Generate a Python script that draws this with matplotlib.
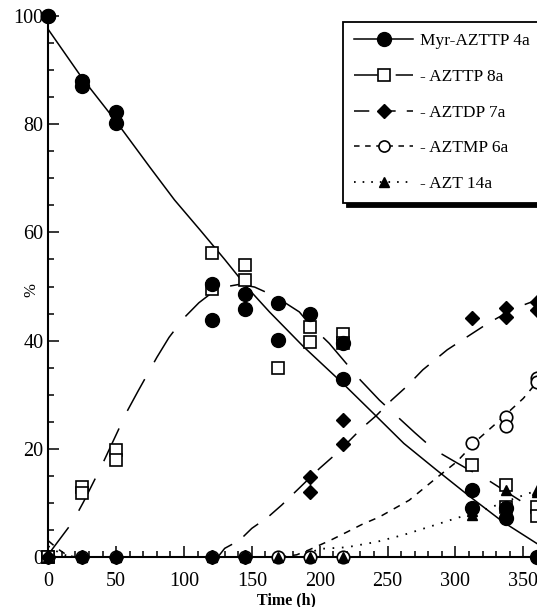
import numpy as np
import matplotlib
matplotlib.use("Agg")
from matplotlib import pyplot as plt
from matplotlib.lines import Line2D

plt.rcParams['font.family'] = ['Liberation Serif', 'DejaVu Serif']
plt.rcParams['lines.scale_dashes'] = False

# measured points (time in h, % of total)
myr_t = [0, 0, 25, 25, 50, 50, 121, 121, 145, 145, 169, 169, 193, 217, 217, 312, 312, 337, 337, 360]
myr_v = [100, 100, 88, 87, 82.3, 80.3, 50.4, 43.8, 48.6, 45.8, 46.9, 40.1, 45.0, 39.5, 32.9, 12.4, 9.0, 9.0, 7.2, 0]

azttp_t = [0, 0, 25, 25, 50, 50, 121, 121, 145, 145, 169, 193, 193, 217, 217, 312, 337, 337, 360, 360]
azttp_v = [0, 0, 12.9, 11.8, 19.8, 17.9, 56.1, 49.5, 54.0, 51.2, 34.9, 42.6, 39.7, 41.3, 39.5, 17.0, 13.3, 9.2, 9.2, 7.5]

aztdp_t = [0, 25, 50, 121, 145, 193, 193, 217, 217, 312, 337, 337, 360, 360]
aztdp_v = [0, 0, 0, 0, 0, 14.8, 12.0, 25.3, 20.9, 44.1, 46.0, 44.4, 47.1, 45.7]

aztmp_t = [0, 25, 50, 121, 145, 169, 193, 217, 312, 337, 337, 360, 360]
aztmp_v = [0, 0, 0, 0, 0, 0, 0, 0, 21.0, 25.9, 24.2, 33.0, 32.3]

azt_t = [0, 25, 50, 121, 145, 169, 193, 217, 312, 312, 337, 337, 360, 360]
azt_v = [0, 0, 0, 0, 0, 0, 0, 0, 8.5, 7.8, 12.4, 8.6, 12.4, 12.0]

# fitted curves
myr_ct = [0, 25, 50, 75, 93, 112, 130, 147, 163, 188, 217, 241, 262, 286, 311, 335, 360]
myr_cv = [97.5, 88.5, 80.5, 72, 66, 60.4, 55, 49.7, 45.3, 38.9, 32.1, 26.2, 21, 16.1, 11.1, 6.5, 2.5]

azttp_ct = [0, 2.5, 18, 26, 39, 47, 58, 66, 80, 89, 100, 111, 125, 141, 152, 167, 185, 193,
            207, 230, 244, 270, 284, 308, 326, 351, 360]
azttp_cv = [0, 1.3, 6.5, 10.2, 16.7, 21, 26.9, 30.6, 36.9, 40.6, 44.2, 47, 49.7, 50.4, 49.9, 48.2, 45.3, 42.9,
            39.5, 32.7, 29, 23, 19.9, 16.4, 13.9, 9.9, 8.5]

aztdp_ct = [125, 130, 141, 150, 162, 172, 186, 200, 214, 231, 242, 253, 264, 276, 294, 305, 324, 344, 360]
aztdp_cv = [0, 1.6, 3.1, 5.3, 7.4, 9.6, 13, 16.4, 19.5, 23.8, 26.2, 29, 31.5, 34.6, 38.3, 40.1, 43.2, 46, 47.5]

aztmp_ct = [0, 7, 14, 20, 170, 183, 192, 208, 220, 231, 244, 266, 284, 301, 316, 330, 350, 360]
aztmp_cv = [3, 1.5, 0.3, 0, 0, 0.4, 1.3, 3.1, 4.6, 6.0, 7.4, 10.5, 14.2, 17.6, 21.6, 24.7, 29.3, 32.3]

azt_ct = [0, 8, 16, 185, 200, 220, 231, 242, 262, 281, 301, 321, 340, 360]
azt_cv = [2, 0.8, 0, 0, 1.5, 1.8, 2.3, 2.8, 4.1, 5.6, 7.2, 8.7, 10.5, 12.3]

labels = ['Myr-AZTTP 4a', '- AZTTP 8a', '- AZTDP 7a', '- AZTMP 6a', '- AZT 14a']

fig = plt.figure(figsize=(5.37, 6.07), dpi=100)
ax = fig.add_axes([48.3 / 537, 1 - 557 / 607, 488.5 / 537, 541 / 607])

lw = 1.1
ax.plot(myr_ct, myr_cv, color='k', lw=lw, ls='-')
ax.plot(azttp_ct, azttp_cv, color='k', lw=lw, ls=(0, (26, 14)))
ax.plot(aztdp_ct, aztdp_cv, color='k', lw=lw, ls=(0, (14, 10)))
ax.plot(aztmp_ct, aztmp_cv, color='k', lw=lw, ls=(0, (5, 5)))
ax.plot(azt_ct, azt_cv, color='k', lw=1.3, ls=(0, (1.2, 5.5)))

mk = dict(ls='none', clip_on=False, zorder=5)
ax.plot(aztmp_t, aztmp_v, marker='o', ms=9, mfc='white', mec='k', mew=1.2, **mk)
ax.plot(azttp_t, azttp_v, marker='s', ms=9, mfc='white', mec='k', mew=1.2, **mk)
ax.plot(aztdp_t, aztdp_v, marker='D', ms=7.5, mfc='k', mec='k', **mk)
ax.plot(azt_t, azt_v, marker='^', ms=6.5, mfc='k', mec='k', **mk)
ax.plot(myr_t, myr_v, marker='o', ms=10, mfc='k', mec='k', **mk)

ax.set_xlim(0, 360)
ax.set_ylim(0, 100)
ax.set_xticks(np.arange(0, 351, 50))
ax.set_xticks(np.arange(0, 361, 10), minor=True)
ax.set_yticks(np.arange(0, 101, 20))
ax.set_yticks(np.arange(0, 101, 5), minor=True)
for s in ['top', 'right']:
    ax.spines[s].set_visible(False)
for s in ['left', 'bottom']:
    ax.spines[s].set_linewidth(1.5)
ax.tick_params(which='major', direction='in', length=8, width=1.1, labelsize=14.5)
ax.tick_params(which='minor', direction='in', length=4, width=1.1)
ax.tick_params(axis='x', which='major', pad=11)
ax.tick_params(axis='y', which='major', pad=3.5)

fig.text(286.7 / 537, 1 - 600 / 607, 'Time (h)', ha='center', va='center', fontsize=11.5, fontweight='bold')
fig.text(31.7 / 537, 1 - 290 / 607, '%', ha='center', va='center', rotation=90, fontsize=12)

# legend, its box runs past the right edge like the scan
hand = [
    Line2D([], [], color='k', lw=lw, ls='-', marker='o', ms=10, mfc='k'),
    Line2D([], [], color='k', lw=lw, ls=(0, (17, 13)), marker='s', ms=8, mfc='white', mew=1.2),
    Line2D([], [], color='k', lw=lw, ls=(0, (11, 8)), marker='D', ms=7, mfc='k'),
    Line2D([], [], color='k', lw=lw, ls=(0, (4, 4)), marker='o', ms=8, mfc='white', mew=1.2),
    Line2D([], [], color='k', lw=1.3, ls=(0, (1.2, 5)), marker='^', ms=6.5, mfc='k'),
]
leg = fig.legend(hand, labels, loc='upper left', mode='expand',
                 bbox_to_anchor=(343 / 537, 0.5, 220 / 537, 1 - 22 / 607 - 0.5),
                 fontsize=12.5, frameon=True, fancybox=False, edgecolor='k',
                 shadow={'color': 'k', 'alpha': 1.0, 'ox': 3, 'oy': -3},
                 handlelength=3.4, handletextpad=0.4, labelspacing=1.12, borderpad=0.65,
                 borderaxespad=0)
leg.get_frame().set_linewidth(1.3)

fig.savefig('out.png', dpi=100)
